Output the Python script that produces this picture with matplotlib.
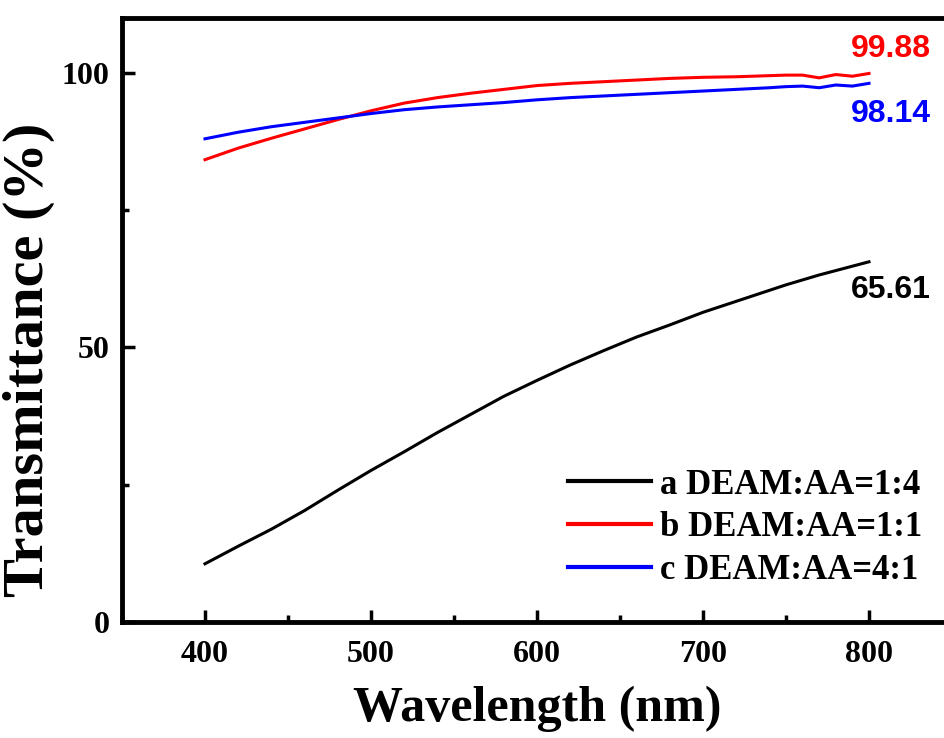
import matplotlib
matplotlib.use("Agg")
import matplotlib.pyplot as plt
from matplotlib.ticker import MultipleLocator

# wavelength (nm) and transmittance (%)
wavelength = [400, 420, 440, 460, 480, 500, 520, 540, 560, 580, 600, 620,
              640, 660, 680, 700, 720, 740, 750, 760, 770, 780, 790, 800]
trans_a = [10.6, 13.8, 16.9, 20.3, 24.0, 27.6, 31.0, 34.5, 37.8, 41.1, 44.0, 46.8,
           49.4, 51.9, 54.1, 56.4, 58.4, 60.4, 61.4, 62.3, 63.2, 64.0, 64.8, 65.6]
trans_b = [84.2, 86.3, 88.1, 89.8, 91.5, 93.1, 94.5, 95.5, 96.3, 97.0, 97.7, 98.1,
           98.4, 98.7, 99.0, 99.2, 99.3, 99.5, 99.6, 99.6, 99.1, 99.7, 99.4, 99.9]
trans_c = [88.0, 89.2, 90.2, 91.0, 91.8, 92.6, 93.3, 93.8, 94.2, 94.6, 95.1, 95.5,
           95.8, 96.1, 96.4, 96.7, 97.0, 97.3, 97.5, 97.6, 97.3, 97.8, 97.6, 98.1]
labels = ["a DEAM:AA=1:4", "b DEAM:AA=1:1", "c DEAM:AA=4:1"]
colors = ["black", "red", "blue"]
end_values = ["65.61", "99.88", "98.14"]
end_label_y = [60.5, 104.4, 92.5]

serif = "Liberation Serif"
sans = "Liberation Sans"

fig = plt.figure(figsize=(9.45, 7.38), dpi=100)
ax = fig.add_axes([0.1291, 0.1572, 0.8783, 0.8184])

for ys, lab, c in zip([trans_a, trans_b, trans_c], labels, colors):
    ax.plot(wavelength, ys, color=c, lw=2.2, label=lab)

for val, yy, c in zip(end_values, end_label_y, colors):
    ax.text(813, yy, val, color=c, fontsize=23, fontweight="bold",
            family=sans, ha="center", va="center")

ax.set_xlim(350, 850)
ax.set_ylim(0, 110)
ax.xaxis.set_major_locator(MultipleLocator(100))
ax.xaxis.set_minor_locator(MultipleLocator(50))
ax.yaxis.set_major_locator(MultipleLocator(50))
ax.yaxis.set_minor_locator(MultipleLocator(25))
ax.set_xticks([400, 500, 600, 700, 800])

ax.tick_params(which="both", direction="in", width=2.5, top=False, right=False)
ax.tick_params(which="major", length=9)
ax.tick_params(axis="x", which="major", pad=13)
ax.tick_params(axis="y", which="major", pad=9)
ax.tick_params(which="minor", length=5)
for sp in ax.spines.values():
    sp.set_linewidth(3.5)

for t in ax.get_xticklabels() + ax.get_yticklabels():
    t.set_fontfamily(serif)
    t.set_fontweight("bold")
    t.set_fontsize(23)

ax.set_xlabel("Wavelength (nm)", fontsize=36, fontweight="bold", family=serif, labelpad=12)
ax.set_ylabel("Transmittance (%)", fontsize=42, fontweight="bold", family=serif)
ax.yaxis.set_label_coords(-0.081, 0.434)

leg = ax.legend(loc="lower right", bbox_to_anchor=(0.964, 0.058), frameon=False,
                handlelength=2.4, handletextpad=0.25, labelspacing=0.28,
                borderpad=0, borderaxespad=0,
                prop={"family": serif, "weight": "bold", "size": 25})
for h in leg.get_lines():
    h.set_linewidth(3)

fig.savefig("out.png", dpi=100)
